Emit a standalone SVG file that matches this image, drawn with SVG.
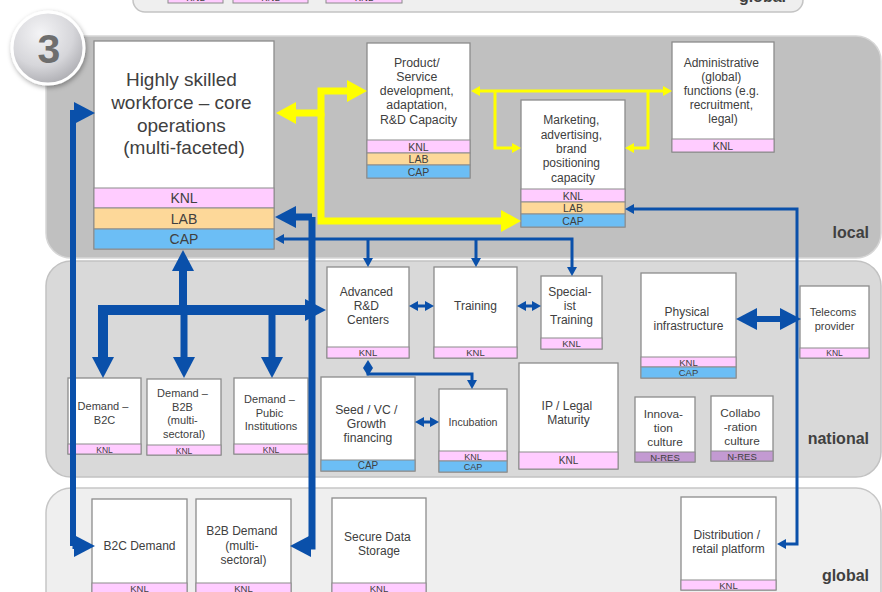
<svg xmlns="http://www.w3.org/2000/svg" width="882" height="592" viewBox="0 0 882 592">
  <defs>
    <style>
      .t { font-family: "Liberation Sans", Arial, sans-serif; fill: #404040; text-anchor: middle; }
      .region { font-family: "Liberation Sans", Arial, sans-serif; font-weight: bold; font-size: 16px; fill: #404040; text-anchor: end; }
      .box { fill: #ffffff; stroke: #8c8c8c; stroke-width: 1.3; }
      .knl { fill: #ffccff; stroke: #8c8c8c; stroke-width: 1; }
      .lab { fill: #fdd899; stroke: #8c8c8c; stroke-width: 1; }
      .cap { fill: #6cbef5; stroke: #8c8c8c; stroke-width: 1; }
      .nres { fill: #c39ad2; stroke: #8c8c8c; stroke-width: 1; }
      .band { font-family: "Liberation Sans", Arial, sans-serif; fill: #404040; text-anchor: middle; font-size: 9.5px; }
      .yt { fill: none; stroke: #ffff00; stroke-width: 7; stroke-linejoin: miter; }
      .ys { fill: none; stroke: #ffff00; stroke-width: 3; }
      .bt { fill: none; stroke: #0a50aa; stroke-linejoin: miter; }
    </style>
    <radialGradient id="badgeFill" cx="40%" cy="30%" r="75%">
      <stop offset="0" stop-color="#f4f4f6"/>
      <stop offset="0.6" stop-color="#d6d6da"/>
      <stop offset="1" stop-color="#a9a9ae"/>
    </radialGradient>
    <filter id="badgeShadow" x="-30%" y="-30%" width="160%" height="160%">
      <feDropShadow dx="1" dy="2" stdDeviation="2.5" flood-color="#000" flood-opacity="0.35"/>
    </filter>
    <!-- arrowheads: base at the path end, tip extends beyond it -->
    <marker id="ayL" viewBox="0 -11 20 22" refX="0" refY="0" markerWidth="20" markerHeight="22" markerUnits="userSpaceOnUse" orient="auto-start-reverse">
      <path d="M0,-11 L20,0 L0,11 z" fill="#ffff00"/>
    </marker>
    <marker id="ayS" viewBox="0 -5 9 10" refX="0" refY="0" markerWidth="9" markerHeight="10" markerUnits="userSpaceOnUse" orient="auto-start-reverse">
      <path d="M0,-5 L9,0 L0,5 z" fill="#ffff00"/>
    </marker>
    <marker id="abL" viewBox="0 -11 21 22" refX="0" refY="0" markerWidth="21" markerHeight="22" markerUnits="userSpaceOnUse" orient="auto-start-reverse">
      <path d="M0,-11 L21,0 L0,11 z" fill="#0a50aa"/>
    </marker>
    <marker id="abS" viewBox="0 -5 9 10" refX="0" refY="0" markerWidth="9" markerHeight="10" markerUnits="userSpaceOnUse" orient="auto-start-reverse">
      <path d="M0,-5 L9,0 L0,5 z" fill="#0a50aa"/>
    </marker>
    <marker id="dia" viewBox="-5 -8 10 16" refX="0" refY="0" markerWidth="10" markerHeight="16" markerUnits="userSpaceOnUse" orient="0">
      <path d="M0,-8 L5,0 L0,8 L-5,0 z" fill="#0a50aa"/>
    </marker>
  </defs>

  <rect x="0" y="0" width="882" height="592" fill="#ffffff"/>

  <!-- level bands -->
  <g id="bands">
    <rect x="133" y="-30" width="670" height="42" rx="12" fill="#efefef" stroke="#c4c4c4" stroke-width="1.5"/>
    <rect class="knl" x="168" y="-10" width="55" height="13"/>
    <rect class="knl" x="233" y="-10" width="75" height="13"/>
    <rect class="knl" x="326" y="-10" width="76" height="13"/>
    <text class="band" x="195.5" y="1">KNL</text>
    <text class="band" x="270.5" y="1">KNL</text>
    <text class="band" x="364" y="1">KNL</text>
    <text class="region" x="786" y="2">global</text>

    <rect x="46" y="36" width="835" height="222" rx="25" fill="#c0c0c0" stroke="#d6d6d6" stroke-width="1.5"/>
    <text class="region" x="869" y="238">local</text>

    <rect x="46" y="261" width="835" height="216" rx="25" fill="#d9d9d9" stroke="#c2c2c2" stroke-width="1.5"/>
    <text class="region" x="869" y="444">national</text>

    <rect x="46" y="488" width="835" height="140" rx="25" fill="#efefef" stroke="#c6c6c6" stroke-width="1.5"/>
    <text class="region" x="869" y="581">global</text>
  </g>

  <!-- level number badge -->
  <g id="badge">
    <circle cx="48" cy="48" r="36" fill="url(#badgeFill)" stroke="#ffffff" stroke-width="3" filter="url(#badgeShadow)"/>
    <text x="49" y="63" font-family="Liberation Sans, Arial, sans-serif" font-weight="bold" font-size="41" fill="#6e6e6e" text-anchor="middle">3</text>
  </g>

  <!-- local level -->
  <g id="workforce">
    <rect class="box" x="94" y="41" width="180" height="208"/>
    <text class="t" font-size="19">
      <tspan x="184" y="86">Highly skilled</tspan>
      <tspan x="184" y="109">workforce – core</tspan>
      <tspan x="184" y="132">operations</tspan>
      <tspan x="184" y="154">(multi-faceted)</tspan>
    </text>
    <rect class="knl" x="94" y="188" width="180" height="20"/>
    <rect class="lab" x="94" y="208" width="180" height="21"/>
    <rect class="cap" x="94" y="229" width="180" height="20"/>
    <text class="band" style="font-size:14px" x="184" y="203">KNL</text>
    <text class="band" style="font-size:14px" x="184" y="223.5">LAB</text>
    <text class="band" style="font-size:14px" x="184" y="244">CAP</text>
  </g>

  <g id="product-dev">
    <rect class="box" x="367" y="43" width="103" height="135"/>
    <text class="t" font-size="12.3">
      <tspan x="418.5" y="66.5">Product/</tspan>
      <tspan x="418.5" y="80.7">Service</tspan>
      <tspan x="418.5" y="95">development,</tspan>
      <tspan x="418.5" y="109.3">adaptation,</tspan>
      <tspan x="418.5" y="123.5">R&amp;D Capacity</tspan>
    </text>
    <rect class="knl" x="367" y="140" width="103" height="13"/>
    <rect class="lab" x="367" y="153" width="103" height="12"/>
    <rect class="cap" x="367" y="165" width="103" height="13"/>
    <text class="band" style="font-size:10.5px" x="418.5" y="150.5">KNL</text>
    <text class="band" style="font-size:10.5px" x="418.5" y="163">LAB</text>
    <text class="band" style="font-size:10.5px" x="418.5" y="175.5">CAP</text>
  </g>

  <g id="marketing">
    <rect class="box" x="521" y="100" width="104" height="127"/>
    <text class="t" font-size="12">
      <tspan x="573" y="124.3">Marketing,</tspan>
      <tspan x="573" y="138.5">advertising,</tspan>
      <tspan x="573" y="153">brand</tspan>
      <tspan x="573" y="167.3">positioning</tspan>
      <tspan x="573" y="181.5">capacity</tspan>
    </text>
    <rect class="knl" x="521" y="189" width="104" height="13"/>
    <rect class="lab" x="521" y="202" width="104" height="12"/>
    <rect class="cap" x="521" y="214" width="104" height="13"/>
    <text class="band" style="font-size:10.5px" x="573" y="199.5">KNL</text>
    <text class="band" style="font-size:10.5px" x="573" y="212">LAB</text>
    <text class="band" style="font-size:10.5px" x="573" y="224.5">CAP</text>
  </g>

  <g id="admin">
    <rect class="box" x="672" y="42" width="102" height="110"/>
    <text class="t" font-size="12">
      <tspan x="723" y="66.7">Administrative</tspan>
      <tspan x="723" y="80.7">(global)</tspan>
      <tspan x="723" y="95">functions (e.g.</tspan>
      <tspan x="723" y="109.3">recruitment,</tspan>
      <tspan x="723" y="123.3">legal)</tspan>
    </text>
    <rect class="knl" x="672" y="139" width="102" height="13"/>
    <text class="band" style="font-size:10.5px" x="723" y="149.5">KNL</text>
  </g>

  <!-- national level -->
  <g id="adv-rd">
    <rect class="box" x="327" y="267" width="82" height="91"/>
    <text class="t" font-size="12">
      <tspan x="368" y="296">Advanced</tspan>
      <tspan x="368" y="310">R&amp;D</tspan>
      <tspan x="368" y="324">Centers</tspan>
    </text>
    <rect class="knl" x="327" y="347" width="82" height="11"/>
    <text class="band" x="368" y="356">KNL</text>
  </g>

  <g id="training">
    <rect class="box" x="434" y="267" width="83" height="91"/>
    <text class="t" font-size="12" x="475.5" y="310">Training</text>
    <rect class="knl" x="434" y="347" width="83" height="11"/>
    <text class="band" x="475.5" y="356">KNL</text>
  </g>

  <g id="specialist">
    <rect class="box" x="541" y="276" width="61" height="73"/>
    <text class="t" font-size="12">
      <tspan x="571.5" y="296">Special-</tspan>
      <tspan x="571.5" y="310">ist</tspan>
      <tspan x="571.5" y="324">Training</tspan>
    </text>
    <rect class="knl" x="541" y="338" width="61" height="11"/>
    <text class="band" x="571.5" y="347">KNL</text>
  </g>

  <g id="seed-vc">
    <rect class="box" x="321" y="377" width="94" height="94"/>
    <text class="t" font-size="12.2">
      <tspan x="368" y="413.5">Seed / VC /</tspan>
      <tspan x="368" y="427.5">Growth</tspan>
      <tspan x="368" y="442">financing</tspan>
    </text>
    <rect class="cap" x="321" y="460" width="94" height="11"/>
    <text class="band" style="font-size:10px" x="368" y="469">CAP</text>
  </g>

  <g id="incubation">
    <rect class="box" x="439" y="389" width="68" height="83"/>
    <text class="t" font-size="10.6" x="473" y="426">Incubation</text>
    <rect class="knl" x="439" y="451" width="68" height="10"/>
    <rect class="cap" x="439" y="461" width="68" height="11"/>
    <text class="band" style="font-size:9px" x="473" y="459.5">KNL</text>
    <text class="band" style="font-size:9px" x="473" y="470">CAP</text>
  </g>

  <g id="ip-legal">
    <rect class="box" x="519" y="363" width="99" height="106"/>
    <text class="t" font-size="12">
      <tspan x="568.5" y="409.5">IP / Legal</tspan>
      <tspan x="568.5" y="423.5">Maturity</tspan>
    </text>
    <rect class="knl" x="519" y="452" width="99" height="17"/>
    <text class="band" style="font-size:10px" x="568.5" y="464">KNL</text>
  </g>

  <g id="physical-infra">
    <rect class="box" x="641" y="273" width="95" height="105"/>
    <text class="t" font-size="12">
      <tspan x="688.5" y="316">Physical</tspan>
      <tspan x="688.5" y="330">infrastructure</tspan>
    </text>
    <rect class="knl" x="641" y="357" width="95" height="10"/>
    <rect class="cap" x="641" y="367" width="95" height="11"/>
    <text class="band" x="688.5" y="365.5">KNL</text>
    <text class="band" x="688.5" y="376">CAP</text>
  </g>

  <g id="telecoms">
    <rect class="box" x="800" y="286" width="69" height="72"/>
    <text class="t" font-size="11">
      <tspan x="834.5" y="316">Telecoms</tspan>
      <tspan x="834.5" y="330">provider</tspan>
    </text>
    <rect class="knl" x="800" y="348" width="69" height="10"/>
    <text class="band" style="font-size:8.5px" x="834.5" y="356">KNL</text>
  </g>

  <g id="innovation-culture">
    <rect class="box" x="635" y="397" width="60" height="65"/>
    <text class="t" font-size="11.8">
      <tspan x="665" y="418">Innova-</tspan>
      <tspan x="665" y="432">tion</tspan>
      <tspan x="665" y="446">culture</tspan>
    </text>
    <rect class="nres" x="635" y="452" width="60" height="10"/>
    <text class="band" x="665" y="460.5">N-RES</text>
  </g>

  <g id="collaboration-culture">
    <rect class="box" x="711" y="396" width="62" height="65"/>
    <text class="t" font-size="11.8">
      <tspan x="742" y="416.5">Collabo</tspan>
      <tspan x="742" y="431">-ration</tspan>
      <tspan x="742" y="445">culture</tspan>
    </text>
    <rect class="nres" x="711" y="451" width="62" height="10"/>
    <text class="band" x="742" y="459.5">N-RES</text>
  </g>

  <g id="demand-b2c">
    <rect class="box" x="68" y="378" width="73" height="76"/>
    <text class="t" font-size="11">
      <tspan x="104.5" y="410">Demand –</tspan>
      <tspan x="104.5" y="424">B2C</tspan>
    </text>
    <rect class="knl" x="68" y="444" width="73" height="10"/>
    <text class="band" style="font-size:8.5px" x="104.5" y="452.5">KNL</text>
  </g>

  <g id="demand-b2b">
    <rect class="box" x="147" y="379" width="74" height="76"/>
    <text class="t" font-size="11">
      <tspan x="184" y="397">Demand –</tspan>
      <tspan x="184" y="410.5">B2B</tspan>
      <tspan x="184" y="424">(multi-</tspan>
      <tspan x="184" y="437.5">sectoral)</tspan>
    </text>
    <rect class="knl" x="147" y="445" width="74" height="10"/>
    <text class="band" style="font-size:8.5px" x="184" y="453.5">KNL</text>
  </g>

  <g id="demand-public">
    <rect class="box" x="234" y="378" width="74" height="76"/>
    <text class="t" font-size="11">
      <tspan x="271" y="403">Demand –</tspan>
      <tspan x="271" y="417">Pubic</tspan>
      <tspan x="271" y="430">Institutions</tspan>
    </text>
    <rect class="knl" x="234" y="444" width="74" height="10"/>
    <text class="band" style="font-size:8.5px" x="271" y="452.5">KNL</text>
  </g>

  <!-- global level -->
  <g id="b2c-demand">
    <rect class="box" x="92" y="499" width="95" height="110"/>
    <text class="t" font-size="12" x="139.5" y="549.5">B2C Demand</text>
    <rect class="knl" x="92" y="583" width="95" height="20"/>
    <text class="band" x="139.5" y="591.5">KNL</text>
  </g>

  <g id="b2b-demand">
    <rect class="box" x="196" y="499" width="95" height="110"/>
    <text class="t" font-size="12">
      <tspan x="243.5" y="535">B2B Demand</tspan>
      <tspan x="243.5" y="549.5">(multi-</tspan>
      <tspan x="243.5" y="564">sectoral)</tspan>
    </text>
    <rect class="knl" x="196" y="583" width="95" height="20"/>
    <text class="band" x="243.5" y="591.5">KNL</text>
  </g>

  <g id="secure-storage">
    <rect class="box" x="332" y="498" width="94" height="110"/>
    <text class="t" font-size="12">
      <tspan x="379" y="541">Secure Data</tspan>
      <tspan x="379" y="555">Storage</tspan>
    </text>
    <rect class="knl" x="332" y="583" width="94" height="20"/>
    <text class="band" x="379" y="591.5">KNL</text>
  </g>

  <g id="distribution">
    <rect class="box" x="681" y="497" width="95" height="93"/>
    <text class="t" font-size="12">
      <tspan x="728.5" y="539">Distribution /</tspan>
      <tspan x="728.5" y="553">retail platform</tspan>
    </text>
    <rect class="knl" x="681" y="580" width="95" height="10"/>
    <text class="band" x="728.5" y="588.5">KNL</text>
  </g>

  <!-- connectors -->
  <g id="connectors">
    <!-- yellow: workforce to product development and marketing -->
    <path class="yt" d="M296,113 H321 V91 H347" marker-start="url(#ayL)" marker-end="url(#ayL)"/>
    <path class="yt" d="M321,113 V221 H501" marker-end="url(#ayL)"/>
    <!-- yellow: product development, marketing and admin -->
    <path class="ys" d="M480,91 H663" marker-start="url(#ayS)" marker-end="url(#ayS)"/>
    <path class="ys" d="M495,91 V148 H512" marker-end="url(#ayS)"/>
    <path class="ys" d="M648,91 V148 H634" marker-end="url(#ayS)"/>

    <!-- blue: global demand loops into the workforce -->
    <path class="bt" stroke-width="6" d="M73,546 V113 H74" marker-end="url(#abL)"/>
    <path class="bt" stroke-width="6" d="M73,330 V546 H72.5"/>
    <path class="bt" stroke-width="6" d="M73,546 H74" marker-end="url(#abL)"/>
    <path class="bt" stroke-width="7" d="M312,217 V546 H311" marker-end="url(#abL)"/>
    <path class="bt" stroke-width="7" d="M312,217 H296" marker-end="url(#abL)"/>

    <!-- blue: CAP feed to R&D, training, specialist training -->
    <path class="bt" stroke-width="3" d="M284,239 H572 V267" marker-start="url(#abS)" marker-end="url(#abS)"/>
    <path class="bt" stroke-width="3" d="M368,239 V258" marker-end="url(#abS)"/>
    <path class="bt" stroke-width="3" d="M476,239 V258" marker-end="url(#abS)"/>

    <!-- blue: national demand tree -->
    <path class="bt" stroke-width="8" d="M183,310 V271" marker-end="url(#abL)"/>
    <path class="bt" stroke-width="10" d="M103,357 V310 H305" marker-start="url(#abL)" marker-end="url(#abL)"/>
    <path class="bt" stroke-width="7" d="M184,310 V357" marker-end="url(#abL)"/>
    <path class="bt" stroke-width="7" d="M272,310 V357" marker-end="url(#abL)"/>

    <!-- blue: national links -->
    <path class="bt" stroke-width="3" d="M418,306 H425" marker-start="url(#abS)" marker-end="url(#abS)"/>
    <path class="bt" stroke-width="3" d="M526,306 H532" marker-start="url(#abS)" marker-end="url(#abS)"/>
    <path class="bt" stroke-width="3" d="M424,422 H430" marker-start="url(#abS)" marker-end="url(#abS)"/>
    <path class="bt" stroke-width="3" d="M368,368 V374 H472 V380" marker-start="url(#dia)" marker-end="url(#abS)"/>
    <path class="bt" stroke-width="6" d="M757,319 H780" marker-start="url(#abL)" marker-end="url(#abL)"/>

    <!-- blue: marketing to distribution platform -->
    <path class="bt" stroke-width="3" d="M634,209 H797 V544 H786" marker-start="url(#abS)" marker-end="url(#abS)"/>
  </g>
</svg>
